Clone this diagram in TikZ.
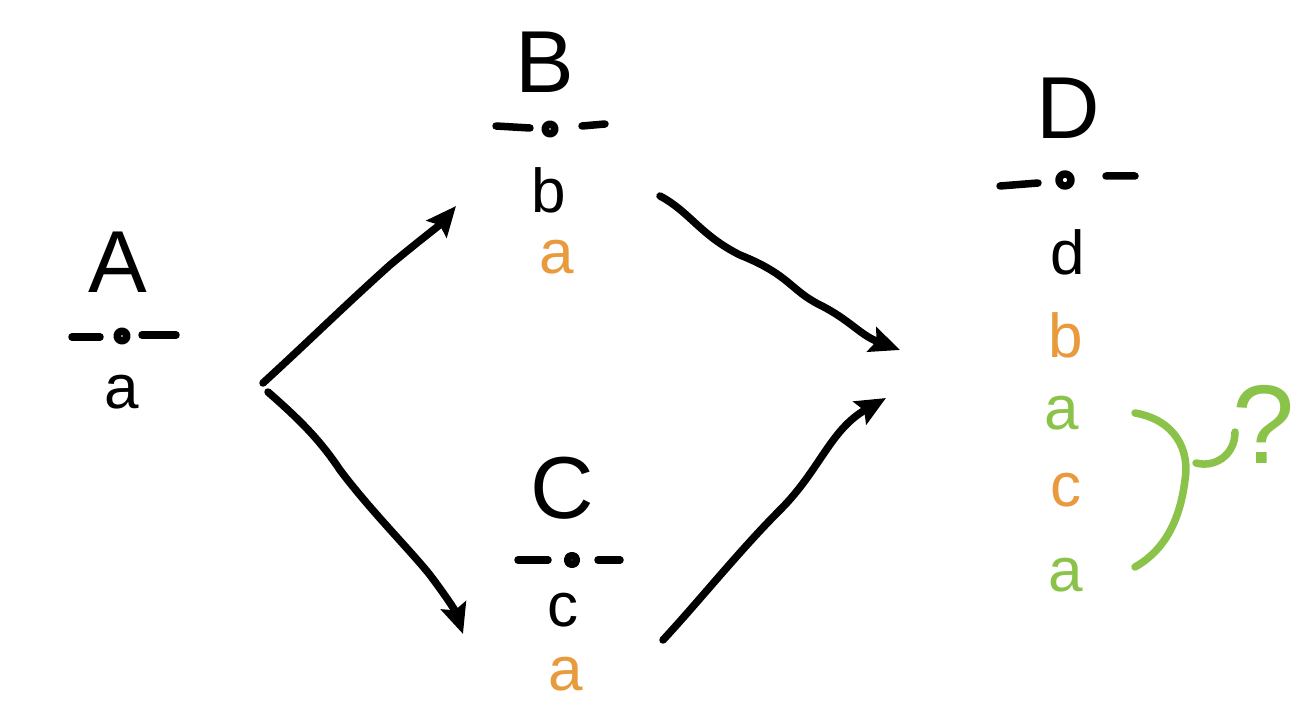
\documentclass[tikz,border=0pt]{standalone}
\usepackage{fontspec}
\setmainfont{Liberation Sans}
\usetikzlibrary{arrows.meta}
\definecolor{orng}{HTML}{E89A3C}
\definecolor{grn}{HTML}{8BC34A}
\tikzset{
  capl/.style={font=\fontsize{88}{90}\selectfont, inner sep=0pt},
  low/.style={font=\fontsize{62}{64}\selectfont, inner sep=0pt},
  ink/.style={line width=7.5pt, line cap=round, line join=round},
  arr/.style={ink, -{Stealth[length=30pt,width=26pt,inset=5pt]}},
}
\begin{document}
\begin{tikzpicture}[x=1pt,y=-1pt]
\useasboundingbox (0,0) rectangle (1302,703);
% A
\node[capl] (A) at (118,262) {A};
\draw[ink] (72,337) -- (100,337) (142,335) -- (176,335);
\draw[ink] (122,336) circle (5);
\node[low] (Aa) at (122,392) {a};
% B
\node[capl] (B) at (545,62) {B};
\draw[ink] (496,126) -- (530,128) (582,126) -- (605,124);
\draw[ink] (550,129) circle (5);
\node[low] (Bb) at (549,190) {b};
\node[low,orng] (Ba) at (557,257) {a};
% C
\node[capl] (C) at (562,488) {C};
\draw[ink] (518,560) -- (548,560) (598,560) -- (620,560);
\draw[ink] (572,560) circle (4.5);
\node[low] (Cc) at (563,610) {c};
\node[low,orng] (Ca) at (566,674) {a};
% D
\node[capl] (D) at (1068,108) {D};
\draw[ink] (1000,186) -- (1038,183) (1106,176) -- (1135,176);
\draw[ink] (1065,180) circle (6);
\node[low] (Dd) at (1068,252) {d};
\node[low,orng] (Db) at (1066,335) {b};
\node[low,grn] (Da1) at (1062,413) {a};
\node[low,orng] (Dc) at (1066,490) {c};
\node[low,grn] (Da2) at (1066,575) {a};
% arrows
\coordinate (s1) at (263,383);
\coordinate (e1) at (456,206);
\coordinate (s2) at (268,392);
\coordinate (e2) at (463,634);
\coordinate (s3) at (660,196);
\coordinate (e3) at (900,350);
\coordinate (s4) at (663,640);
\coordinate (e4) at (886,398);
\draw[arr] (s1) .. controls (310,340) and (340,310) .. (390,265) .. controls (420,240) and (440,225) .. (e1);
\draw[arr] (s2) .. controls (300,420) and (320,440) .. (340,470) .. controls (370,510) and (410,550) .. (430,575) .. controls (445,595) and (455,610) .. (e2);
\draw[arr] (s3) .. controls (690,212) and (700,235) .. (740,255) .. controls (790,275) and (790,290) .. (820,305) .. controls (850,320) and (860,335) .. (e3);
\draw[arr] (s4) .. controls (700,600) and (740,550) .. (780,510) .. controls (820,470) and (830,430) .. (e4);
% brace and question
\coordinate (b1) at (1135,413);
\coordinate (b2) at (1135,567);
\draw[ink,grn] (b1) .. controls (1175,420) and (1190,450) .. (1185,480) .. controls (1180,520) and (1165,550) .. (b2);
\draw[ink,grn] (1196,463) .. controls (1215,468) and (1235,455) .. (1235,432);
\node[capl,grn,font=\fontsize{112}{114}\selectfont] (Q) at (1264,424) {?};
\end{tikzpicture}
\end{document}
